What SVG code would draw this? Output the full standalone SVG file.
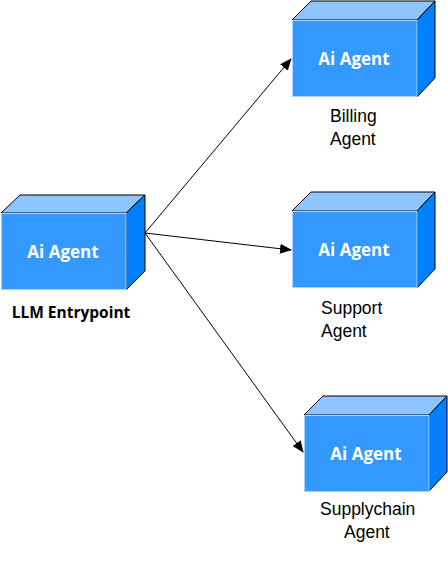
<svg xmlns="http://www.w3.org/2000/svg" width="448" height="572" viewBox="0 0 448 572">
<style>
.front{fill:#3399FF;stroke:#A9D3FF;stroke-width:1}
.top{fill:#8EC5FF;stroke:#000;stroke-width:1}
.side{fill:#0080FF;stroke:#000;stroke-width:1}
.t{font-family:"Open Sans","DejaVu Sans",sans-serif;font-weight:bold;font-size:17px;fill:#fff;text-anchor:middle}
.lbl{font-family:"Liberation Sans",Arial,sans-serif;font-size:17.5px;fill:#000}
.b{font-family:"Open Sans","DejaVu Sans",sans-serif;font-weight:bold;font-size:15.5px;fill:#000;text-anchor:middle}
.c{stroke:#000;stroke-width:1;fill:none}
</style>
<defs>
<marker id="ah" markerWidth="12" markerHeight="10" refX="11" refY="5" orient="auto" markerUnits="userSpaceOnUse">
<path d="M0,0 L12,5 L0,10 Z" fill="#000"/>
</marker>
</defs>
<g id="connectors">
<line class="c" x1="145" y1="233" x2="291" y2="59" marker-end="url(#ah)"/>
<line class="c" x1="145" y1="233" x2="291" y2="250" marker-end="url(#ah)"/>
<line class="c" x1="145" y1="233" x2="303" y2="452" marker-end="url(#ah)"/>
</g>
<g id="entry">
<polygon class="top" points="1,213 20,195 145,195 126,213"/>
<polygon class="side" points="126,213 145,195 145,271 126,290"/>
<rect class="front" x="1.5" y="213.5" width="124.5" height="76"/>
<text class="t" x="63" y="258">Ai Agent</text>
<text class="b" x="71" y="318">LLM Entrypoint</text>
</g>
<g id="billing">
<polygon class="top" points="292,20 311,1 435,1 417,20"/>
<polygon class="side" points="417,20 435,1 435,78 417,97"/>
<rect class="front" x="292.5" y="20.5" width="124.5" height="76"/>
<text class="t" x="354" y="65">Ai Agent</text>
<text class="lbl" x="330" y="122">Billing</text>
<text class="lbl" x="330" y="145">Agent</text>
</g>
<g id="support">
<polygon class="top" points="292,211 311,192 435,192 417,211"/>
<polygon class="side" points="417,211 435,192 435,269 417,288"/>
<rect class="front" x="292.5" y="211.5" width="124.5" height="76"/>
<text class="t" x="354" y="256">Ai Agent</text>
<text class="lbl" x="321" y="314">Support</text>
<text class="lbl" x="321" y="337">Agent</text>
</g>
<g id="supplychain">
<polygon class="top" points="304,415 323,396 447,396 429,415"/>
<polygon class="side" points="429,415 447,396 447,472 429,491"/>
<rect class="front" x="304.5" y="415.5" width="124.5" height="76"/>
<text class="t" x="366" y="460">Ai Agent</text>
<text class="lbl" x="320" y="515">Supplychain</text>
<text class="lbl" x="344" y="538">Agent</text>
</g>
</svg>
